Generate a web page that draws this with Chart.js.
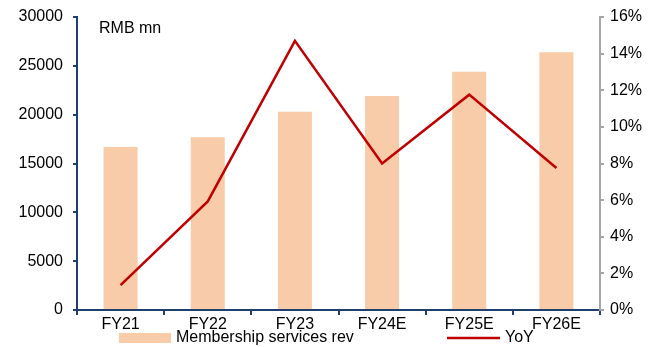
<!DOCTYPE html>
<html>
<head>
    <title>Membership services revenue</title>
    <script src="https://cdn.jsdelivr.net/npm/chart.js"></script>
    <style>
        body { margin: 0; background: #fff; }
    </style>
</head>
<body>
    <canvas id="myChart" width="661" height="347"></canvas>
    <script>
        // Data
        var categories = ['FY21', 'FY22', 'FY23', 'FY24E', 'FY25E', 'FY26E'];
        var revenue = [16700, 17700, 20300, 21900, 24400, 26400];   // RMB mn
        var yoy = [0.0136, 0.0593, 0.147, 0.080, 0.1176, 0.0775];
        var seriesNames = ['Membership services rev', 'YoY'];
        var unitLabel = 'RMB mn';

        var navy = '#1F3F6E';
        var grey = '#A6A6A6';
        var barColor = '#F8CBA9';
        var lineColor = '#C00000';
        var font = { family: 'Liberation Sans, Arial, sans-serif', size: 16 };

        // Unit caption and bottom legend
        var extras = {
            id: 'extras',
            afterDraw: function(chart) {
                var ctx = chart.ctx;
                var a = chart.chartArea;
                ctx.save();
                ctx.font = '16px Liberation Sans, Arial, sans-serif';
                ctx.fillStyle = '#000';
                ctx.textBaseline = 'middle';
                ctx.fillText(unitLabel, a.left + 22, 29);

                var y = 338;
                ctx.fillStyle = barColor;
                ctx.fillRect(119, y - 5, 52, 10);
                ctx.fillStyle = '#000';
                ctx.fillText(seriesNames[0], 176, y);

                ctx.strokeStyle = lineColor;
                ctx.lineWidth = 2.5;
                ctx.beginPath();
                ctx.moveTo(447, y);
                ctx.lineTo(500, y);
                ctx.stroke();
                ctx.fillText(seriesNames[1], 505, y);
                ctx.restore();
            }
        };

        function fitSide(width) {
            return function(s) {
                s.width = width;
                s.paddingTop = 0;
                s.paddingBottom = 0;
            };
        }

        var ctx = document.getElementById('myChart').getContext('2d');
        var chart = new Chart(ctx, {
            data: {
                labels: categories,
                datasets: [{
                    type: 'line',
                    label: seriesNames[1],
                    data: yoy,
                    yAxisID: 'y1',
                    borderColor: lineColor,
                    borderWidth: 2.5,
                    pointRadius: 0,
                    tension: 0,
                    order: 0
                }, {
                    type: 'bar',
                    label: seriesNames[0],
                    data: revenue,
                    yAxisID: 'y',
                    backgroundColor: barColor,
                    barPercentage: 0.39,
                    categoryPercentage: 1,
                    order: 1
                }]
            },
            options: {
                responsive: false,
                animation: false,
                layout: { padding: { left: 0, right: 0, top: 17, bottom: 15 } },
                plugins: {
                    legend: { display: false },
                    tooltip: { enabled: false }
                },
                scales: {
                    x: {
                        offset: true,
                        grid: { drawOnChartArea: false, drawTicks: true, tickLength: 5, color: navy, lineWidth: 2, offset: true },
                        border: { color: navy, width: 2 },
                        ticks: { color: '#000', font: font, padding: 0, maxRotation: 0 },
                        afterFit: function(s) { s.height = 22; }
                    },
                    y: {
                        position: 'left',
                        min: 0, max: 30000,
                        grid: { drawOnChartArea: false, drawTicks: true, tickLength: 4, color: navy, lineWidth: 2 },
                        border: { color: navy, width: 2 },
                        ticks: {
                            stepSize: 5000, color: '#000', font: font, padding: 10,
                            callback: function(v) { return String(v); }
                        },
                        afterFit: fitSide(77)
                    },
                    y1: {
                        position: 'right',
                        min: 0, max: 0.16,
                        grid: { drawOnChartArea: false, drawTicks: true, tickLength: 4, color: grey, lineWidth: 2 },
                        border: { color: grey, width: 2 },
                        ticks: {
                            stepSize: 0.02, color: '#000', font: font, padding: 6,
                            callback: function(v) { return Math.round(v * 100) + '%'; }
                        },
                        afterFit: fitSide(61)
                    }
                }
            },
            plugins: [extras]
        });
    </script>
</body>
</html>
